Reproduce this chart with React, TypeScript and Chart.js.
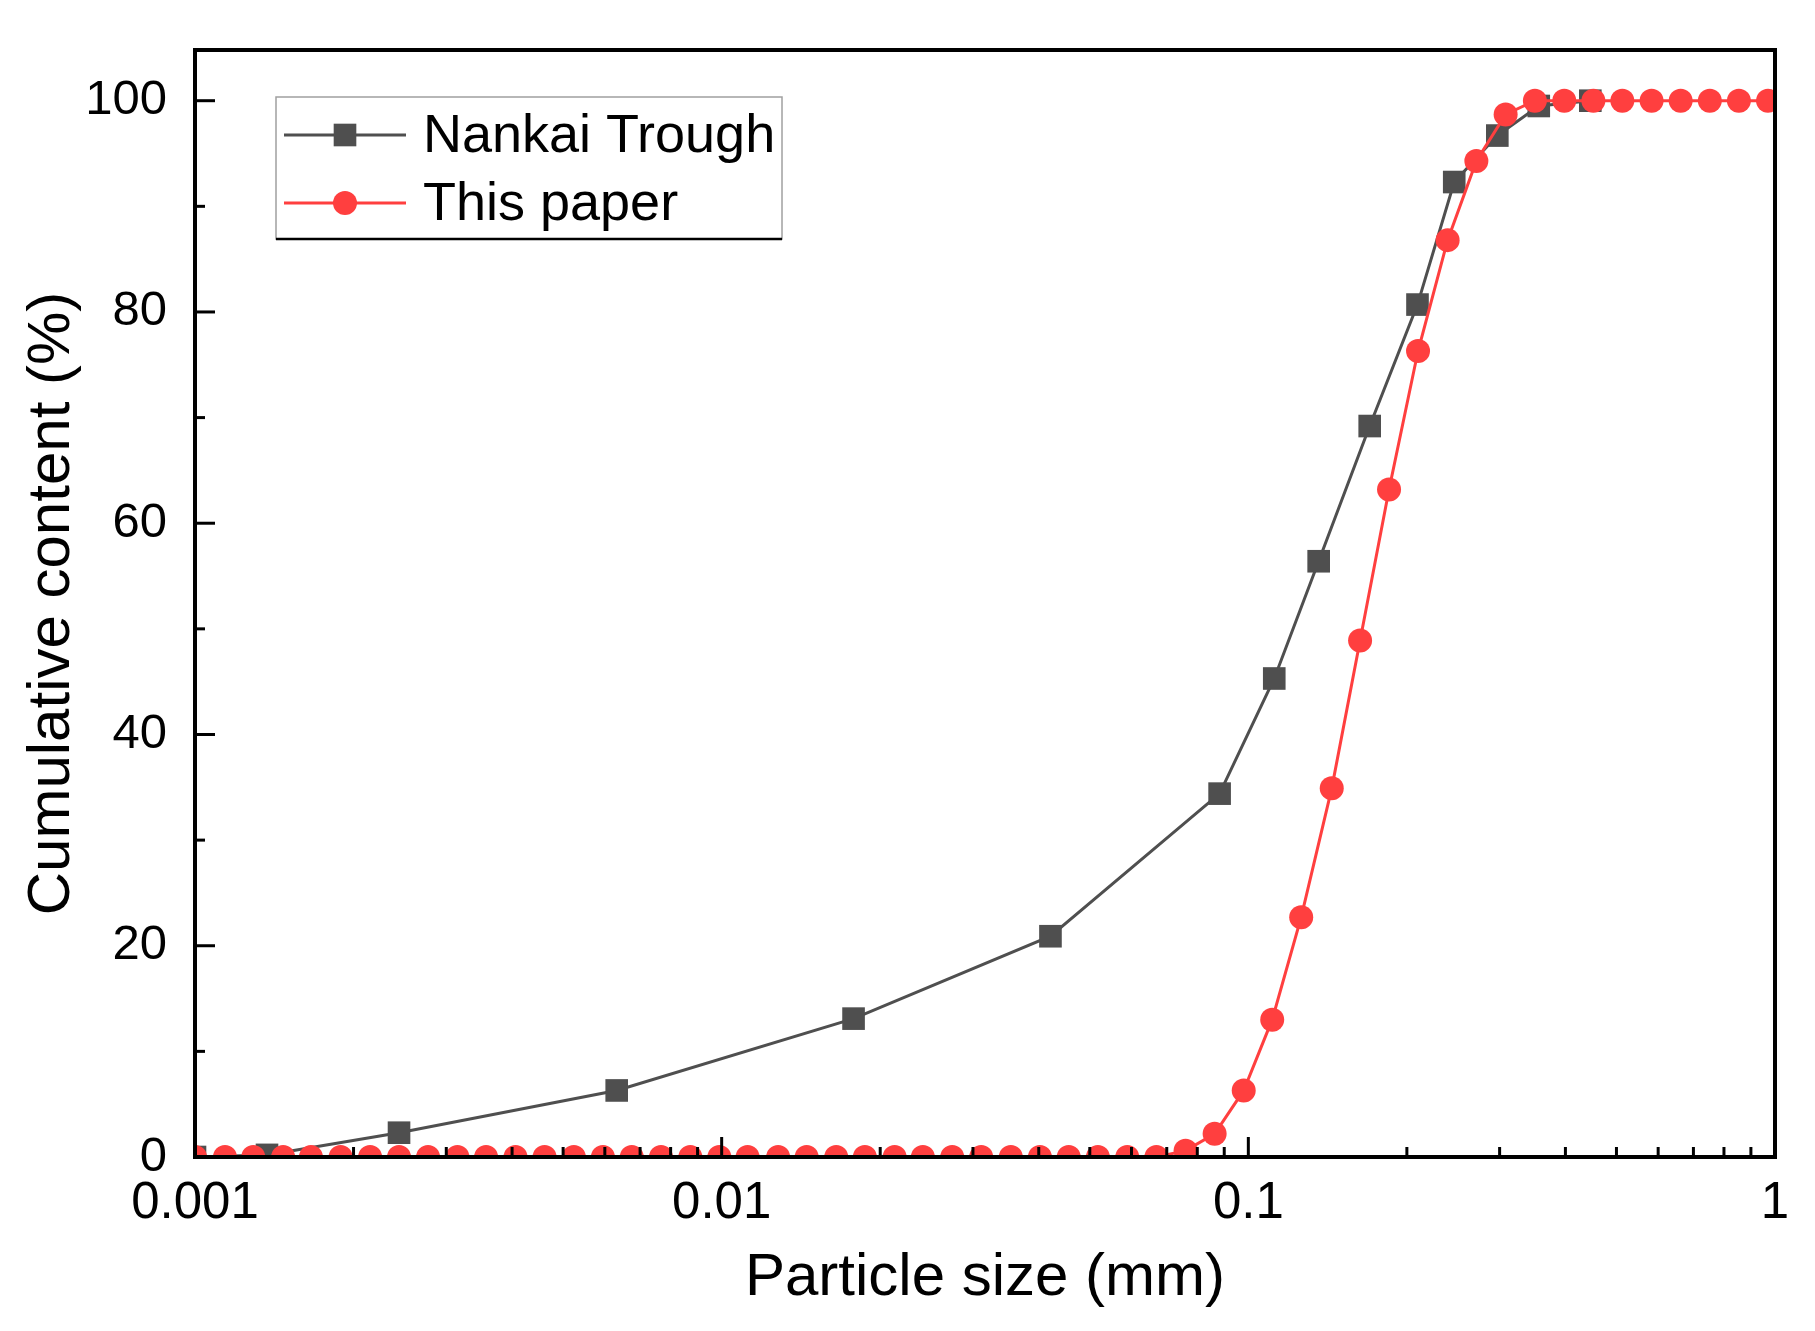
import React, { useEffect, useRef } from 'react';
import { Chart, registerables } from 'chart.js';

Chart.register(...registerables);

// ---- data ----
const SERIES_NAMES = ['Nankai Trough', 'This paper'];

const NANKAI_SIZE = [0.001, 0.00137, 0.00244, 0.00632, 0.0178, 0.0421, 0.0882, 0.112, 0.136, 0.17, 0.2095, 0.246, 0.297, 0.356, 0.446];
const NANKAI_CUM = [0, 0.2, 2.3, 6.3, 13.1, 20.9, 34.4, 45.3, 56.4, 69.2, 80.7, 92.3, 96.7, 99.5, 100];

const PAPER_SIZE = [
  0.001, 0.00114, 0.00129, 0.00147, 0.00166, 0.00189, 0.00215, 0.00244, 0.00277, 0.00315,
  0.00357, 0.00406, 0.00461, 0.00524, 0.00595, 0.00675, 0.00767, 0.00872, 0.0099, 0.0112,
  0.0128, 0.0145, 0.0165, 0.0187, 0.0213, 0.0241, 0.0274, 0.0311, 0.0354, 0.0402,
  0.0456, 0.0518, 0.0589, 0.0669, 0.076, 0.0863, 0.098, 0.111, 0.126, 0.144,
  0.163, 0.185, 0.21, 0.239, 0.271, 0.308, 0.35, 0.398, 0.452, 0.513,
  0.583, 0.662, 0.752, 0.854, 0.97,
];
const PAPER_CUM = [
  0, 0, 0, 0, 0, 0, 0, 0, 0, 0,
  0, 0, 0, 0, 0, 0, 0, 0, 0, 0,
  0, 0, 0, 0, 0, 0, 0, 0, 0, 0,
  0, 0, 0, 0, 0.6, 2.2, 6.3, 13.0, 22.7, 34.9,
  48.9, 63.2, 76.3, 86.8, 94.3, 98.7, 100, 100, 100, 100,
  100, 100, 100, 100, 100,
];

const X_MAJOR_TICKS = [0.001, 0.01, 0.1, 1];
const X_TICK_LABELS = ['0.001', '0.01', '0.1', '1'];
const X_MINOR_MULTIPLIERS = [2, 3, 4, 5, 6, 7, 8, 9];
const Y_MAJOR_TICKS = [0, 20, 40, 60, 80, 100];
const Y_MINOR_TICKS = [10, 30, 50, 70, 90];

const X_TITLE = 'Particle size (mm)';
const Y_TITLE = 'Cumulative content (%)';

// ---- styles ----
const FONT_FAMILY = '"Liberation Sans", Arial, sans-serif';
const DARK = '#4f4f4f';
const RED = '#ff3f3f';
const W = 1815;
const H = 1331;

const xTickValues: number[] = [];
X_MAJOR_TICKS.forEach((m, i) => {
  xTickValues.push(m);
  if (i < X_MAJOR_TICKS.length - 1) X_MINOR_MULTIPLIERS.forEach((k) => xTickValues.push(m * k));
});
const yTickValues = [...Y_MAJOR_TICKS, ...Y_MINOR_TICKS].sort((a, b) => a - b);

const isXMajor = (v: number) => X_MAJOR_TICKS.findIndex((m) => Math.abs(m - v) / m < 1e-6);

const framePlugin = {
  id: 'frameAndTicks',
  afterDatasetsDraw(chart: any) {
    const { ctx, chartArea } = chart;
    const { left, right, top, bottom } = chartArea;
    const xs = chart.scales.x;
    const ys = chart.scales.y;
    ctx.save();
    ctx.strokeStyle = '#000';
    ctx.lineWidth = 3;
    ctx.lineCap = 'butt';
    xs.ticks.forEach((t: any) => {
      const px = xs.getPixelForValue(t.value);
      const len = isXMajor(t.value) >= 0 ? 20 : 10;
      ctx.beginPath();
      ctx.moveTo(px, bottom);
      ctx.lineTo(px, bottom - len);
      ctx.stroke();
    });
    ys.ticks.forEach((t: any) => {
      const py = ys.getPixelForValue(t.value);
      const len = Y_MAJOR_TICKS.includes(t.value) ? 20 : 10;
      ctx.beginPath();
      ctx.moveTo(left, py);
      ctx.lineTo(left + len, py);
      ctx.stroke();
    });
    ctx.lineWidth = 4;
    ctx.strokeRect(left, top, right - left, bottom - top);
    ctx.restore();
  },
  afterDraw(chart: any) {
    const { ctx, chartArea } = chart;
    const bx = chartArea.left + 81;
    const by = chartArea.top + 47;
    const bw = 506;
    const bh = 142;
    ctx.save();
    ctx.fillStyle = '#fff';
    ctx.fillRect(bx, by, bw, bh);
    ctx.strokeStyle = '#a0a0a0';
    ctx.lineWidth = 1.5;
    ctx.strokeRect(bx, by, bw, bh);
    ctx.strokeStyle = '#000';
    ctx.lineWidth = 2.5;
    ctx.beginPath();
    ctx.moveTo(bx, by + bh);
    ctx.lineTo(bx + bw, by + bh);
    ctx.stroke();

    const rows = [
      { name: SERIES_NAMES[0], color: DARK, style: 'rect', radius: 16, y: by + 38 },
      { name: SERIES_NAMES[1], color: RED, style: 'circle', radius: 12, y: by + 106 },
    ];
    rows.forEach((r) => {
      ctx.strokeStyle = r.color;
      ctx.lineWidth = 3;
      ctx.beginPath();
      ctx.moveTo(bx + 8, r.y);
      ctx.lineTo(bx + 130, r.y);
      ctx.stroke();
      ctx.fillStyle = r.color;
      const cx = bx + 69;
      if (r.style === 'rect') {
        const s = r.radius * Math.SQRT1_2;
        ctx.fillRect(cx - s, r.y - s, 2 * s, 2 * s);
      } else {
        ctx.beginPath();
        ctx.arc(cx, r.y, r.radius, 0, Math.PI * 2);
        ctx.fill();
      }
      ctx.fillStyle = '#000';
      ctx.font = `54px ${FONT_FAMILY}`;
      ctx.textAlign = 'left';
      ctx.textBaseline = 'middle';
      ctx.fillText(r.name, bx + 147, r.y + 2);
    });
    ctx.restore();
  },
};

export default function App() {
  const ref = useRef<HTMLCanvasElement | null>(null);

  useEffect(() => {
    document.body.style.margin = '0';
    const canvas = ref.current;
    if (!canvas) return;
    const chart = new Chart(canvas, {
      type: 'scatter',
      data: {
        datasets: [
          {
            label: SERIES_NAMES[0],
            data: NANKAI_SIZE.map((x, i) => ({ x, y: NANKAI_CUM[i] })),
            showLine: true,
            borderColor: DARK,
            backgroundColor: DARK,
            borderWidth: 3,
            pointStyle: 'rect',
            pointRadius: 16,
            pointBorderWidth: 0,
            pointBackgroundColor: DARK,
            tension: 0,
            order: 1,
          },
          {
            label: SERIES_NAMES[1],
            data: PAPER_SIZE.map((x, i) => ({ x, y: PAPER_CUM[i] })),
            showLine: true,
            borderColor: RED,
            backgroundColor: RED,
            borderWidth: 3,
            pointStyle: 'circle',
            pointRadius: 12,
            pointBorderWidth: 0,
            pointBackgroundColor: RED,
            tension: 0,
            order: 0,
          },
        ],
      },
      options: {
        animation: false,
        responsive: false,
        devicePixelRatio: 1,
        layout: { padding: { left: 0, top: 50, right: 40, bottom: 0 } },
        plugins: { legend: { display: false }, tooltip: { enabled: false } },
        scales: {
          x: {
            type: 'logarithmic',
            min: 0.001,
            max: 1,
            afterBuildTicks: (s: any) => {
              s.ticks = xTickValues.map((v) => ({ value: v }));
            },
            afterFit: (s: any) => {
              s.height = 174;
            },
            grid: { display: false },
            border: { display: false },
            ticks: {
              autoSkip: false,
              maxRotation: 0,
              minRotation: 0,
              padding: 8,
              color: '#000',
              font: { family: FONT_FAMILY, size: 51 },
              callback: (v: any) => {
                const i = isXMajor(Number(v));
                return i >= 0 ? X_TICK_LABELS[i] : '';
              },
            },
            title: {
              display: true,
              text: X_TITLE,
              color: '#000',
              font: { family: FONT_FAMILY, size: 60 },
              padding: { top: 12, bottom: 17 },
            },
          },
          y: {
            type: 'linear',
            min: 0,
            max: 104.8,
            afterBuildTicks: (s: any) => {
              s.ticks = yTickValues.map((v) => ({ value: v }));
            },
            afterFit: (s: any) => {
              s.width = 195;
            },
            grid: { display: false },
            border: { display: false },
            ticks: {
              autoSkip: false,
              padding: 20,
              color: '#000',
              font: { family: FONT_FAMILY, size: 49 },
              callback: (v: any) => (Y_MAJOR_TICKS.includes(Number(v)) ? String(v) : ''),
            },
            title: {
              display: true,
              text: Y_TITLE,
              color: '#000',
              font: { family: FONT_FAMILY, size: 60 },
              padding: { top: 16, bottom: 16 },
            },
          },
        },
      },
      plugins: [framePlugin],
    });
    return () => chart.destroy();
  }, []);

  return (
    <div style={{ width: W, height: H, background: '#fff' }}>
      <canvas ref={ref} width={W} height={H} style={{ display: 'block', width: W, height: H }} />
    </div>
  );
}
